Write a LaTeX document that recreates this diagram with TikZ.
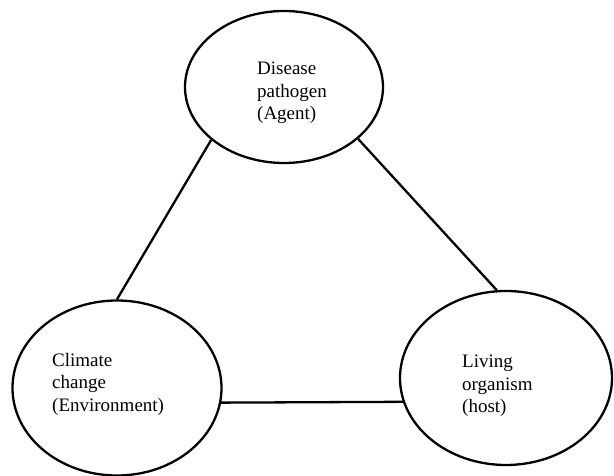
\documentclass[tikz,border=0pt]{standalone}
\usepackage{fontspec}
\setmainfont{Liberation Serif}
\usetikzlibrary{shapes.geometric}
\tikzset{cell/.style={ellipse,draw,line width=2.3pt,inner sep=0pt},
	caption/.style={align=left,inner sep=0pt,anchor=north west,font=\fontsize{19}{22.5}\selectfont},
	link/.style={line width=2.3pt}}

\begin{document}
\begin{tikzpicture}[x=1pt,y=1pt]
		\useasboundingbox[fill=white] (0,0) rectangle (614,475);
		\node[cell,minimum width=198,minimum height=152] (agent) at (284,388) {};
		\node[cell,minimum width=209,minimum height=175] (env) at (117,87) {};
		\node[cell,minimum width=212,minimum height=174] (host) at (506,97) {};
		\node[caption] (agenttext) at (257,413) {Disease\\pathogen\\(Agent)};
		\node[caption] (envtext) at (52,122) {Climate\\change\\(Environment)};
		\node[caption] (hosttext) at (462,120) {Living\\organism\\(host)};
		\draw[link] (agent.216) -- (env.north);
		\draw[link] (agent.325) -- (host.96);
		\draw[link] (env.352) -- (host.193);
		\end{tikzpicture}
\end{document}
